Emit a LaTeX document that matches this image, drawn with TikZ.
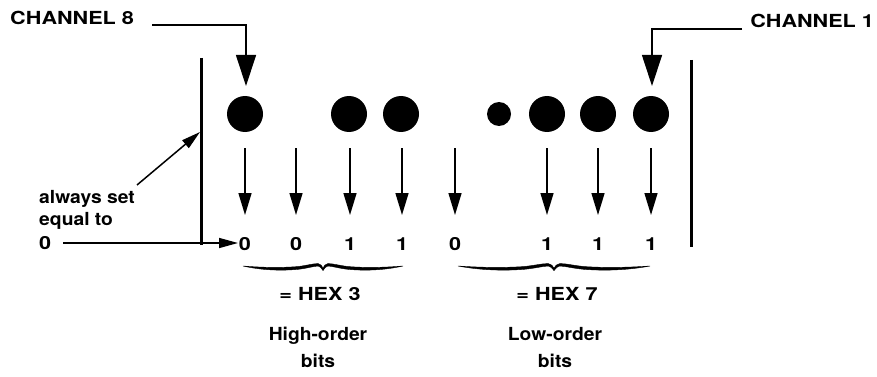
\documentclass[tikz,border=0pt]{standalone}
\usepackage{fontspec}
\newfontfamily\lblfont{texgyreheros-bold.otf}
\usetikzlibrary{arrows.meta}

\begin{document}
\begin{tikzpicture}[x=1pt,y=-1pt,
  lbl/.style={font=\lblfont\fontsize{18}{20}\selectfont, inner sep=0pt},
  capslbl/.style={lbl, xscale=1.2, transform shape},
  lowlbl/.style={lbl, xscale=1.07, transform shape},
  bitnum/.style={capslbl, anchor=base},
  hole/.style={circle, fill=black, inner sep=0pt, minimum size=36pt},
  smallhole/.style={circle, fill=black, inner sep=0pt, minimum size=24pt},
  frame/.style={line width=3pt},
  chanarrow/.style={line width=1.2pt, -{Triangle[length=31pt,width=20pt]}},
  readarrow/.style={line width=1.5pt, -{Triangle[length=22pt,width=13pt]}},
  notearrow/.style={line width=1.5pt, -{Triangle[length=19pt,width=10pt]}},
  % flat swash brace, 100 units wide, scaled with xscale
  hbrace/.pic={
    \fill[line width=0.4pt, draw=black]
      (0,0) .. controls (12,1.6) and (24,1.8) .. (34,0.6)
      .. controls (40,-0.5) and (44,-2.6) .. (47,-2.4)
      .. controls (48.5,-2.2) and (49.5,0) .. (50,2.2)
      .. controls (50.5,0) and (51.5,-2.2) .. (53,-2.4)
      .. controls (56,-2.6) and (60,-0.5) .. (66,0.6)
      .. controls (76,1.8) and (88,1.6) .. (100,0)
      .. controls (88,4.4) and (76,4.8) .. (66,3.4)
      .. controls (60,2.4) and (56,0.2) .. (53,0)
      .. controls (52,0.1) and (50.8,2.2) .. (50,4.6)
      .. controls (49.2,2.2) and (48,0.1) .. (47,0)
      .. controls (44,0.2) and (40,2.4) .. (34,3.4)
      .. controls (24,4.8) and (12,4.4) .. (0,0) -- cycle;
  }
]
\useasboundingbox (0,0) rectangle (877,377);

% tape edges
\coordinate (lt) at (201,58);
\coordinate (lb) at (201,245);
\coordinate (rt) at (691,60);
\coordinate (rb) at (691,247);
\draw[frame] (lt) -- (lb);
\draw[frame] (rt) -- (rb);

% punched holes (channel 8 on the left, channel 1 on the right)
\node[hole] (h8) at (245,114) {};
\node[hole] (h6) at (349,114) {};
\node[hole] (h5) at (401,114) {};
\node[smallhole] (sp) at (499,114) {};
\node[hole] (h3) at (547,114) {};
\node[hole] (h2) at (598,114) {};
\node[hole] (h1) at (651,114) {};

% channel labels
\node[capslbl, anchor=base west] (c8) at (10,25) {CHANNEL 8};
\node[capslbl, anchor=base west] (c1) at (750,28) {CHANNEL 1};
\coordinate (c8s) at (152,25);
\coordinate (c8k) at (246,25);
\coordinate (c8e) at (246,86);
\coordinate (c1s) at (742,29);
\coordinate (c1k) at (652,29);
\coordinate (c1e) at (652,86);
\draw[chanarrow] (c8s) -- (c8k) -- (c8e);
\draw[chanarrow] (c1s) -- (c1k) -- (c1e);

% bit values
\node[bitnum] (b8) at (245,250) {0};
\node[bitnum] (b7) at (296,250) {0};
\node[bitnum] (b6) at (350,250) {1};
\node[bitnum] (b5) at (402,250) {1};
\node[bitnum] (b4) at (455,250) {0};
\node[bitnum] (b3) at (547,250) {1};
\node[bitnum] (b2) at (598,250) {1};
\node[bitnum] (b1) at (651,250) {1};

% read arrows from hole row to bit values
\foreach \n/\x in {8/245,7/296,6/350,5/402,4/455,3/547,2/598,1/651}{
  \coordinate (t\n) at (\x,148);
  \coordinate (u\n) at (\x,215);
  \draw[readarrow] (t\n) -- (u\n);
}

% note on the leftmost bit
\node[lowlbl, anchor=base west] (n1) at (39,203) {always set};
\node[lowlbl, anchor=base west] (n2) at (39,225) {equal to};
\node[capslbl, anchor=base west] (n3) at (39,249) {0};
\coordinate (na) at (137,185);
\coordinate (nb) at (200,132);
\coordinate (zs) at (63,243);
\coordinate (ze) at (238,243);
\draw[notearrow] (na) -- (nb);
\draw[notearrow] (zs) -- (ze);

% grouping braces
\coordinate (gl1) at (243,266);
\coordinate (gr1) at (458,266);
\pic[xscale=1.6] at (gl1) {hbrace};
\pic[xscale=1.92] at (gr1) {hbrace};

\node[capslbl, anchor=base] (hx3) at (320,300) {= HEX 3};
\node[capslbl, anchor=base] (hx7) at (557,300) {= HEX 7};
\node[lowlbl, anchor=base] (ho) at (318,340) {High-order};
\node[lowlbl, anchor=base] (hb) at (318,367) {bits};
\node[lowlbl, anchor=base] (lo) at (555,340) {Low-order};
\node[lowlbl, anchor=base] (lb2) at (555,367) {bits};
\end{tikzpicture}
\end{document}
